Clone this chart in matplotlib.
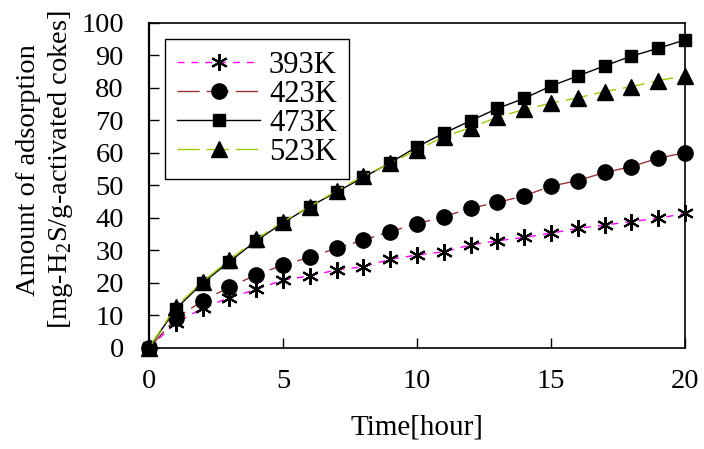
import numpy as np
import matplotlib
matplotlib.use("Agg")
import matplotlib.pyplot as plt

plt.rcParams['font.family'] = ['Liberation Serif', 'DejaVu Serif']
plt.rcParams['mathtext.fontset'] = 'custom'
plt.rcParams['mathtext.rm'] = 'Liberation Serif'

# data
hours = list(range(21))
k393 = [0, 7.8, 12.2, 15.5, 18.0, 20.9, 22.2, 24.0, 25.0, 27.3, 28.6,
        29.6, 31.7, 33.0, 34.0, 35.3, 36.8, 37.8, 38.9, 39.9, 41.4]
k423 = [0, 9.1, 14.5, 18.7, 22.5, 25.5, 27.9, 30.7, 33.2, 35.8, 38.2,
        40.4, 43.0, 44.8, 46.8, 49.8, 51.5, 54.0, 55.8, 58.4, 60.1]
k473 = [0, 12.0, 20.0, 26.5, 33.0, 38.5, 43.5, 48.0, 52.5, 57.0, 61.9,
        66.1, 69.9, 73.7, 76.8, 80.6, 83.7, 86.8, 89.8, 92.2, 94.8]
k523 = [0, 12.7, 20.4, 27.1, 33.4, 38.9, 43.5, 48.4, 52.9, 56.8, 60.9,
        65.0, 67.8, 71.0, 73.4, 75.3, 77.0, 78.9, 80.4, 82.3, 83.7]
labels = ['393K', '423K', '473K', '523K']
xticks = [0, 5, 10, 15, 20]
yticks = list(range(0, 101, 10))

fig = plt.figure(figsize=(7.04, 4.49), dpi=100)
ax = fig.add_axes([0.2116, 0.225, 0.7614, 0.7238])

ax.plot(hours, k393, color='#FF00FF', lw=1, dashes=(5, 5), marker=(6, 2, 0),
        ms=12, mec='black', mew=1.5, label=labels[0], clip_on=False)
ax.plot(hours, k423, color='#993333', lw=1, dashes=(16, 5), marker='o',
        ms=11, mfc='black', mec='black', label=labels[1], clip_on=False)
ax.plot(hours, k473, color='black', lw=1, marker='s',
        ms=8, mfc='black', mec='black', label=labels[2], clip_on=False)
ax.plot(hours, k523, color='#99CC00', lw=1, dashes=(16, 5), marker='^',
        ms=11.5, mfc='black', mec='black', label=labels[3], clip_on=False)

ax.set_xlim(0, 20)
ax.set_ylim(0, 100)
ax.set_xticks(xticks)
ax.set_yticks(yticks)
ax.tick_params(axis='both', direction='in', length=7, width=1, labelsize=20.5)
ax.tick_params(axis='x', pad=15)
ax.tick_params(axis='y', pad=18)
for side in ['top', 'right', 'bottom']:
    ax.spines[side].set_linewidth(1.2)
ax.spines['left'].set_linewidth(1.6)

ax.set_xlabel('Time[hour]', fontsize=21, labelpad=15)
ax.set_ylabel('Amount of adsorption\n[mg-H$_\\mathregular{2}$S/g-activated cokes]',
              fontsize=20.5, linespacing=1.25)
ax.yaxis.set_label_coords(-0.138, 0.548)

leg = ax.legend(loc='upper left', bbox_to_anchor=(0.03, 0.951), borderaxespad=0,
                fontsize=22, handlelength=2.7, labelspacing=0.0, fancybox=False,
                edgecolor='black', framealpha=1, borderpad=0.4, handletextpad=0.3)
leg.get_frame().set_linewidth(1)

plt.savefig('out.png', dpi=100)
